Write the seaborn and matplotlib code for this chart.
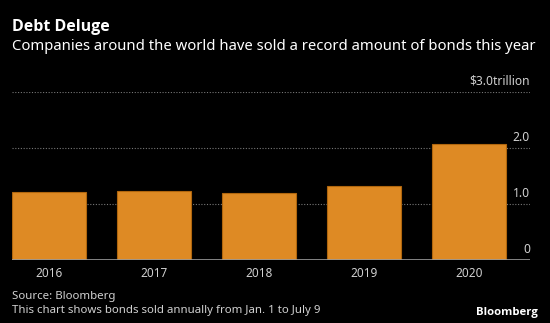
import matplotlib
matplotlib.use("Agg")
import matplotlib.pyplot as plt
import seaborn as sns
import pandas as pd

years = ["2016", "2017", "2018", "2019", "2020"]
values = [1.22, 1.23, 1.19, 1.33, 2.07]
y_ticks = [0, 1.0, 2.0, 3.0]
y_labels = ["0", "1.0", "2.0", "$3.0trillion"]

sns.set_style("dark")
plt.rcParams['font.family'] = ['Noto Sans', 'DejaVu Sans']

df = pd.DataFrame({"year": years, "value": values})

fig = plt.figure(figsize=(5.5, 3.23), dpi=100, facecolor="black")
ax = fig.add_axes([12/550, 1 - 260/323, 518/550, (260 - 92)/323])
ax.set_facecolor("black")

for t in y_ticks[1:]:
    ax.axhline(t, color="#777777", lw=0.8, ls=(0, (1, 1.5)), zorder=0)

sns.barplot(data=df, x="year", y="value", color="#DE8A24", saturation=1,
            width=0.7, edgecolor="#B0660E", linewidth=0.8, ax=ax, zorder=2)

ax.set_xlim(-0.35, 4.58)
ax.set_ylim(0, 3.0)
ax.axhline(0, color="#9a9a9a", lw=1.2, zorder=3)

for sp in ax.spines.values():
    sp.set_visible(False)
ax.set_yticks([])
ax.set_xlabel("")
ax.set_ylabel("")
ax.tick_params(axis="x", length=0, pad=5, colors="#d0d0d0", labelsize=8.5)

for t, lab in zip(y_ticks, y_labels):
    ax.text(4.58, t + 0.08, lab, ha="right", va="bottom", color="#d0d0d0",
            fontsize=8.7, clip_on=False)

fig.text(12/550, 1 - 27/323, "Debt Deluge", color="white", fontsize=11.5,
         fontweight="bold", family=["Open Sans", "DejaVu Sans"], va="center", ha="left")
fig.text(12/550, 1 - 46/323, "Companies around the world have sold a record amount of bonds this year",
         color="white", fontsize=10.7, va="center", ha="left")
fig.text(12/550, 1 - 296/323, "Source: Bloomberg", color="#d0d0d0", fontsize=8.25,
         va="center", ha="left")
fig.text(12/550, 1 - 311/323, "This chart shows bonds sold annually from Jan. 1 to July 9",
         color="#d0d0d0", fontsize=8.25, va="center", ha="left")
fig.text(538/550, 1 - 313/323, "Bloomberg", color="white", fontsize=8.2,
         fontweight="bold", family=["Open Sans", "DejaVu Sans"], va="center", ha="right")

fig.savefig("out.png", dpi=100, facecolor="black")
